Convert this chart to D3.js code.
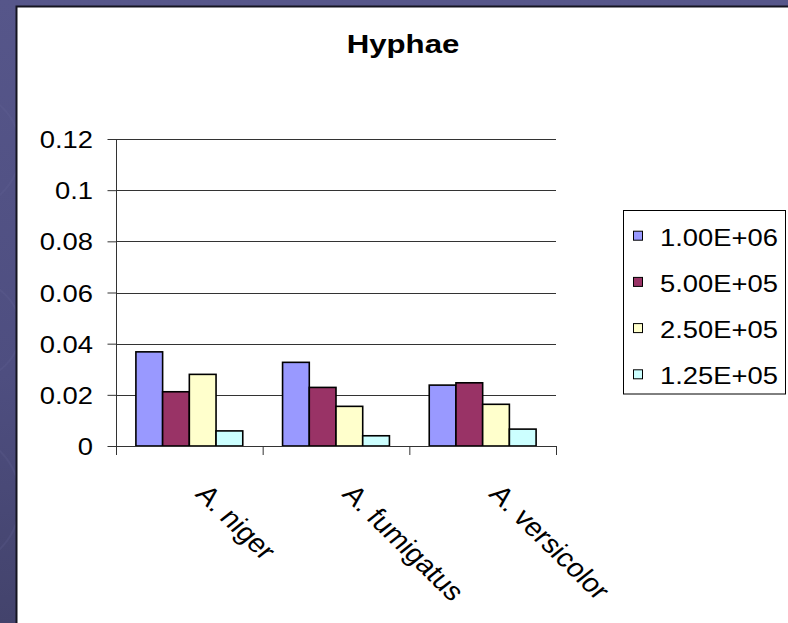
<!DOCTYPE html>
<html>
<head>
<meta charset="utf-8">
<script src="https://cdn.jsdelivr.net/npm/d3@7"></script>
<style>
  html, body { margin: 0; padding: 0; background: #4c4c7c; }
  svg { display: block; }
  text { font-family: "Liberation Sans", Arial, sans-serif; fill: #000; }
</style>
</head>
<body>
<svg id="chart" width="788" height="623"></svg>
<script>
// ---- data ----
const title = "Hyphae";
const categories = ["A. niger", "A. fumigatus", "A. versicolor"];
const seriesNames = ["1.00E+06", "5.00E+05", "2.50E+05", "1.25E+05"];
const seriesColors = ["#9999ff", "#993366", "#ffffcc", "#ccffff"];
const s1 = [0.0368, 0.0327, 0.0238];
const s2 = [0.0212, 0.0229, 0.0247];
const s3 = [0.0280, 0.0155, 0.0163];
const s4 = [0.0059, 0.0040, 0.0066];
const seriesValues = [s1, s2, s3, s4];
const yTicks = [0, 0.02, 0.04, 0.06, 0.08, 0.1, 0.12];
const yTickLabels = ["0", "0.02", "0.04", "0.06", "0.08", "0.1", "0.12"];

// ---- layout ----
const W = 788, H = 623;
const SX = 1.14; // horizontal stretch of the original picture
const svg = d3.select("#chart");

const defs = svg.append("defs");
const g = defs.append("linearGradient").attr("id", "bg").attr("x1", 0).attr("y1", 0).attr("x2", 0).attr("y2", 1);
g.append("stop").attr("offset", "0%").attr("stop-color", "#56568a");
g.append("stop").attr("offset", "60%").attr("stop-color", "#4e4e80");
g.append("stop").attr("offset", "100%").attr("stop-color", "#43436c");
svg.append("rect").attr("width", W).attr("height", H).attr("fill", "url(#bg)");

// subtle swirl strokes in the left strip
[[ -40, 150, 60], [-30, 330, 50], [-50, 500, 70]].forEach(([cx, cy, r]) => {
  svg.append("circle").attr("cx", cx).attr("cy", cy).attr("r", r)
    .attr("fill", "none").attr("stroke", "#6a6a9c").attr("stroke-opacity", 0.2).attr("stroke-width", 2);
});

// white chart area
svg.append("rect").attr("x", 16).attr("y", 6).attr("width", W - 16).attr("height", H - 6).attr("fill", "#fff");
svg.append("path").attr("d", `M16.5,${H} V6.5 H${W}`).attr("fill", "none").attr("stroke", "#141420").attr("stroke-width", 2);

const plot = { left: 116, right: 556, top: 139, bottom: 446 };

const x = d3.scaleBand().domain(categories).range([plot.left, plot.right]).paddingInner(0).paddingOuter(0);
const xi = d3.scaleBand().domain(seriesNames).range([0, x.bandwidth()]).paddingInner(0).paddingOuter(0.745);
const y = d3.scaleLinear().domain([0, 0.12]).range([plot.bottom, plot.top]);

// gridlines
svg.append("g").selectAll("line").data(yTicks.filter(d => d > 0)).join("line")
  .attr("x1", plot.left).attr("x2", plot.right)
  .attr("y1", d => Math.round(y(d)) + 0.5).attr("y2", d => Math.round(y(d)) + 0.5)
  .attr("stroke", "#333").attr("stroke-width", 1);

// y axis
const yAxis = d3.axisLeft(y).tickValues(yTicks).tickSize(9).tickFormat((d, i) => yTickLabels[i]);
const ya = svg.append("g").attr("transform", `translate(${plot.left + 0.5},0)`).call(yAxis);
ya.select(".domain").attr("d", `M0,${plot.top} V${plot.bottom + 9}`).attr("stroke", "#333");
ya.selectAll(".tick line").attr("stroke", "#333");
ya.selectAll(".tick text")
  .attr("x", null).attr("dy", null)
  .attr("text-anchor", "end")
  .style("font-size", "24px")
  .attr("transform", `translate(-23.5,8.5) scale(${SX},1)`);

// bars
const bars = svg.append("g");
seriesValues.forEach((vals, si) => {
  bars.selectAll(null).data(vals).join("rect")
    .attr("x", (d, i) => x(categories[i]) + xi(seriesNames[si]))
    .attr("y", d => y(d))
    .attr("width", xi.bandwidth())
    .attr("height", d => y(0) - y(d))
    .attr("fill", seriesColors[si])
    .attr("stroke", "#000").attr("stroke-width", 1.6);
});

// x axis
const xa = svg.append("g");
xa.append("line").attr("x1", plot.left).attr("x2", plot.right)
  .attr("y1", plot.bottom + 0.5).attr("y2", plot.bottom + 0.5).attr("stroke", "#333");
const boundaries = categories.map(c => x(c)).concat([x(categories[categories.length - 1]) + x.bandwidth()]);
xa.selectAll("line.tk").data(boundaries.slice(1)).join("line").attr("class", "tk")
  .attr("x1", d => d + 0.5).attr("x2", d => d + 0.5)
  .attr("y1", plot.bottom).attr("y2", plot.bottom + 9).attr("stroke", "#333");
xa.selectAll("text").data(categories).join("text")
  .attr("transform", d => `translate(${x(d) + x.bandwidth() / 2 + 5},495) scale(${SX},1) rotate(48)`)
  .attr("text-anchor", "start")
  .style("font-size", "26px")
  .text(d => d);

// title
svg.append("text")
  .attr("transform", `translate(403,53) scale(1.2,1)`)
  .attr("text-anchor", "middle")
  .style("font-size", "26px").style("font-weight", "bold")
  .text(title);

// legend
const lg = svg.append("g");
lg.append("rect").attr("x", 623.5).attr("y", 210.5).attr("width", 162).attr("height", 183.5)
  .attr("fill", "#fff").attr("stroke", "#000").attr("stroke-width", 1);
const rows = lg.selectAll("g.row").data(seriesNames).join("g").attr("class", "row")
  .attr("transform", (d, i) => `translate(0,${245.7 + i * 46.2})`);
rows.append("rect").attr("x", 633.5).attr("y", -14.5).attr("width", 9).attr("height", 9)
  .attr("fill", (d, i) => seriesColors[i]).attr("stroke", "#000").attr("stroke-width", 1);
rows.append("text").attr("transform", `translate(660,0) scale(${SX},1)`)
  .style("font-size", "24px").text(d => d);
</script>
</body>
</html>
